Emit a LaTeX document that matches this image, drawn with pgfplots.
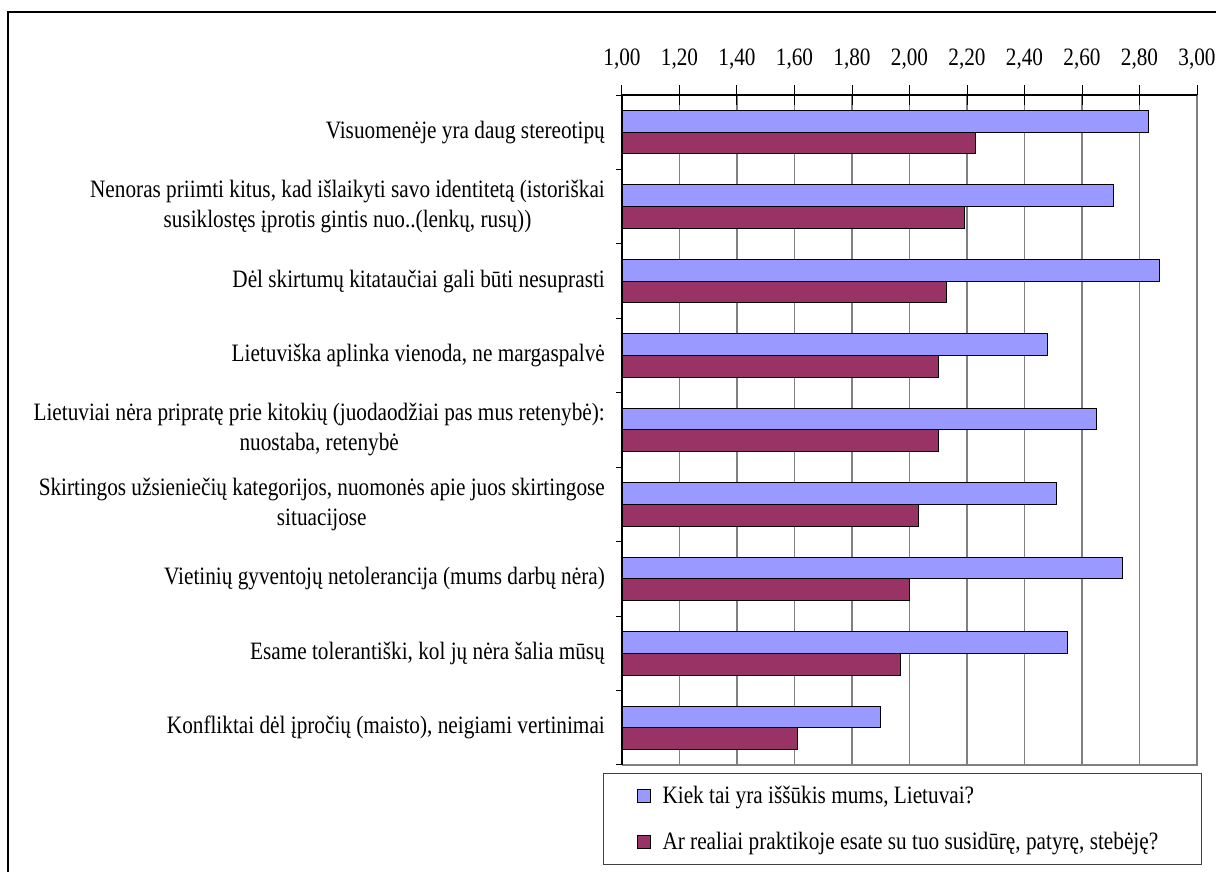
\documentclass[border=0pt]{standalone}
\usepackage{fontspec}
\setmainfont{Liberation Serif}[FakeStretch=0.85]
\usepackage{pgfplots}
\pgfplotsset{compat=1.18}
\definecolor{serA}{HTML}{9999FF}
\definecolor{serB}{HTML}{993366}
\definecolor{gridgray}{HTML}{808080}
\newcommand\lbl{\fontsize{25pt}{30pt}\selectfont}

\begin{document}
\begin{tikzpicture}[x=1pt,y=1pt]
\useasboundingbox (0,0) rectangle (1216,872);
% outer chart frame (right and bottom edges fall outside the picture)
\draw[line width=2pt] (8,-20) -- (8,859.5) -- (1240,859.5);
\begin{axis}[
  at={(622pt,107pt)}, anchor=south west,
  scale only axis, width=575pt, height=670pt,
  xbar, bar width=21.7pt,
  xmin=1, xmax=3, ymin=0.5, ymax=9.5,
  clip mode=individual,
  axis line style={draw=none},
  xtick={1,1.2,1.4,1.6,1.8,2,2.2,2.4,2.6,2.8,3},
  xtick pos=upper, xticklabel pos=upper,
  xtick align=center, major tick length=20pt,
  x tick style={black, line width=1pt},
  xmajorgrids, grid style={gridgray, line width=1.2pt},
  /pgf/number format/assume math mode=true,
  xticklabel style={font=\lbl, inner sep=0pt, yshift=15pt,
    /pgf/number format/fixed, /pgf/number format/fixed zerofill,
    /pgf/number format/precision=2, /pgf/number format/use comma},
  ytick={1,...,9}, ytick pos=left,
  y tick style={draw=none},
  yticklabel style={font=\lbl, align=center, inner sep=0pt, xshift=3pt},
  yticklabels={
    {Konfliktai dėl įpročių (maisto), neigiami vertinimai},
    {Esame tolerantiški, kol jų nėra šalia mūsų},
    {Vietinių gyventojų netolerancija (mums darbų nėra)},
    {Skirtingos užsieniečių kategorijos, nuomonės apie juos skirtingose\\situacijose},
    {Lietuviai nėra pripratę prie kitokių (juodaodžiai pas mus retenybė):\\nuostaba, retenybė},
    {Lietuviška aplinka vienoda, ne margaspalvė},
    {Dėl skirtumų kitataučiai gali būti nesuprasti},
    {Nenoras priimti kitus, kad išlaikyti savo identitetą (istoriškai\\susiklostęs įprotis gintis nuo..(lenkų, rusų))},
    {Visuomenėje yra daug stereotipų}},
  extra y ticks={0.5,1.5,2.5,3.5,4.5,5.5,6.5,7.5,8.5,9.5},
  extra y tick labels={},
  extra y tick style={y tick style={draw=black, line width=1pt},
    tick align=outside, major tick length=6pt},
  legend cell align=left,
  legend style={at={(-0.033,-0.012)}, anchor=north west, draw=black!75,
    line width=1pt, font=\lbl, inner xsep=33pt, inner ysep=11pt, row sep=23pt,
    /tikz/every odd column/.append style={column sep=10pt}},
  legend image code/.code={\draw[#1, draw=black, line width=1pt] (0pt,-6.5pt) rectangle (13pt,6.5pt);},
]
\addplot[fill=serA, draw=black, line width=1pt, bar shift=10.85pt] coordinates {
  (2.83,9) (2.71,8) (2.87,7) (2.48,6) (2.65,5) (2.51,4) (2.74,3) (2.55,2) (1.90,1)};
\addlegendentry{\makebox[504pt][l]{Kiek tai yra iššūkis mums, Lietuvai?}}
\addplot[fill=serB, draw=black, line width=1pt, bar shift=-10.85pt] coordinates {
  (2.23,9) (2.19,8) (2.13,7) (2.10,6) (2.10,5) (2.03,4) (2.00,3) (1.97,2) (1.61,1)};
\addlegendentry{\makebox[504pt][l]{Ar realiai praktikoje esate su tuo susidūrę, patyrę, stebėję?}}
\draw[gridgray, line width=1.5pt] (rel axis cs:0,0) -- (rel axis cs:1,0) -- (rel axis cs:1,1);
\draw[black, line width=1.5pt] (rel axis cs:0,0) -- (rel axis cs:0,1) -- (rel axis cs:1,1);
\end{axis}
\end{tikzpicture}
\end{document}
